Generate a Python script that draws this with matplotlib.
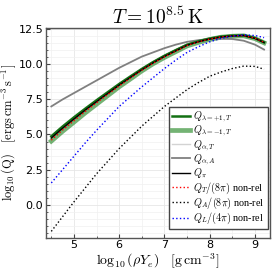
import numpy as np
import matplotlib
matplotlib.use("Agg")
import matplotlib.pyplot as plt
from matplotlib.ticker import MultipleLocator

plt.rcParams['mathtext.fontset'] = 'cm'
plt.rcParams['font.family'] = ['DejaVu Serif']

# log10(rho Ye)
x = [4.5, 4.75, 5.0, 5.25, 5.5, 5.75, 6.0, 6.25, 6.5, 6.75, 7.0,
     7.25, 7.5, 7.75, 8.0, 8.25, 8.5, 8.75, 9.0, 9.2]

# log10(Q)
q_lam_p = [4.87, 5.57, 6.22, 6.84, 7.44, 8.02, 8.6, 9.14, 9.67, 10.16, 10.61,
           11.01, 11.39, 11.64, 11.83, 11.97, 12.04, 12.06, 11.87, 11.57]
q_lam_m = [4.53, 5.23, 5.88, 6.54, 7.16, 7.78, 8.4, 8.96, 9.53, 10.04, 10.49,
           10.9, 11.31, 11.56, 11.77, 11.93, 12.0, 12.03, 11.83, 11.53]
q_alpha_t = [4.7, 5.4, 6.05, 6.7, 7.3, 7.9, 8.5, 9.05, 9.6, 10.1, 10.55,
             10.95, 11.35, 11.6, 11.8, 11.95, 12.02, 12.05, 11.85, 11.55]
q_alpha_a = [7.0, 7.5, 7.95, 8.4, 8.85, 9.3, 9.75, 10.15, 10.55, 10.85, 11.15,
             11.4, 11.6, 11.72, 11.8, 11.82, 11.8, 11.68, 11.4, 11.05]
q_pi = [4.75, 5.45, 6.1, 6.74, 7.34, 7.93, 8.52, 9.07, 9.61, 10.11, 10.56,
        10.96, 11.36, 11.61, 11.8, 11.95, 12.02, 12.05, 11.85, 11.55]
q_t_nr = [4.6, 5.32, 5.98, 6.64, 7.26, 7.86, 8.46, 9.02, 9.58, 10.08, 10.53,
          10.94, 11.34, 11.6, 11.8, 11.95, 12.02, 12.05, 11.86, 11.57]
q_a_nr = [-1.9, -0.85, 0.2, 1.2, 2.2, 3.1, 4.0, 4.8, 5.6, 6.3, 7.0,
          7.6, 8.2, 8.7, 9.15, 9.45, 9.7, 9.87, 9.85, 9.65]
q_l_nr = [1.55, 2.5, 3.45, 4.4, 5.3, 6.15, 7.0, 7.7, 8.4, 9.05, 9.7,
          10.3, 10.85, 11.25, 11.6, 11.85, 12.0, 12.1, 12.05, 11.9]

fig = plt.figure(figsize=(2.78, 2.78), dpi=100)
ax = fig.add_axes([0.165, 0.145, 0.806, 0.755])

ax.plot(x, q_lam_p, color='#137013', lw=1.8, label=r'$Q_{\lambda=+1,T}$', zorder=3)
ax.plot(x, q_lam_m, color='#2a8a2a', lw=3.4, alpha=0.65, label=r'$Q_{\lambda=-1,T}$', zorder=2)
ax.plot(x, q_alpha_t, color='lightgray', lw=1.0, label=r'$Q_{\alpha,T}$', zorder=1)
ax.plot(x, q_alpha_a, color='gray', lw=1.3, label=r'$Q_{\alpha,A}$', zorder=2)
ax.plot(x, q_pi, color='black', lw=1.0, label=r'$Q_{\pi}$', zorder=4)
ax.plot(x, q_t_nr, color='red', lw=1.0, ls=':', label=r'$Q_{T}/(8\pi)$ non-rel', zorder=5)
ax.plot(x, q_a_nr, color='black', lw=1.0, ls=':', label=r'$Q_{A}/(8\pi)$ non-rel', zorder=5)
ax.plot(x, q_l_nr, color='blue', lw=1.0, ls=':', label=r'$Q_{L}/(4\pi)$ non-rel', zorder=5)

ax.set_xlim(4.38, 9.33)
ax.set_ylim(-2.35, 12.6)
ax.xaxis.set_major_locator(MultipleLocator(1))
ax.xaxis.set_minor_locator(MultipleLocator(0.5))
ax.yaxis.set_major_locator(MultipleLocator(2.5))
ax.yaxis.set_minor_locator(MultipleLocator(0.5))
ax.grid(which='major', color='#e6e6e6', lw=0.6)
ax.grid(which='minor', color='#f0f0f0', lw=0.5)
ax.set_axisbelow(True)
ax.tick_params(which='both', direction='in', color='#444444', labelsize=8)
ax.tick_params(which='major', length=3, pad=2)
ax.tick_params(which='minor', length=1.5)
for lab in ax.get_xticklabels() + ax.get_yticklabels():
    lab.set_family('DejaVu Sans')
for s in ax.spines.values():
    s.set_color('#555555')
    s.set_linewidth(1.0)

ax.set_title(r'$T = 10^{8.5}\,\mathrm{K}$', fontsize=14, pad=3)
ax.set_xlabel(r'$\log_{10}(\rho Y_e)\quad[\mathrm{g\,cm^{-3}}]$', fontsize=10, labelpad=1)
ax.set_ylabel(r'$\log_{10}(\mathrm{Q})\quad[\mathrm{ergs\,cm^{-3}\,s^{-1}}]$', fontsize=9, labelpad=0)

leg = ax.legend(loc='lower right', bbox_to_anchor=(0.99, 0.04),
                frameon=True, fancybox=False, handlelength=1.8, handletextpad=0.3,
                labelspacing=0.0, borderpad=0.3, borderaxespad=0.0, framealpha=1,
                prop={'family': 'Liberation Serif', 'size': 7.3})
leg.get_frame().set_edgecolor('#444444')
leg.get_frame().set_linewidth(1.0)

fig.savefig('out.png', dpi=100)
